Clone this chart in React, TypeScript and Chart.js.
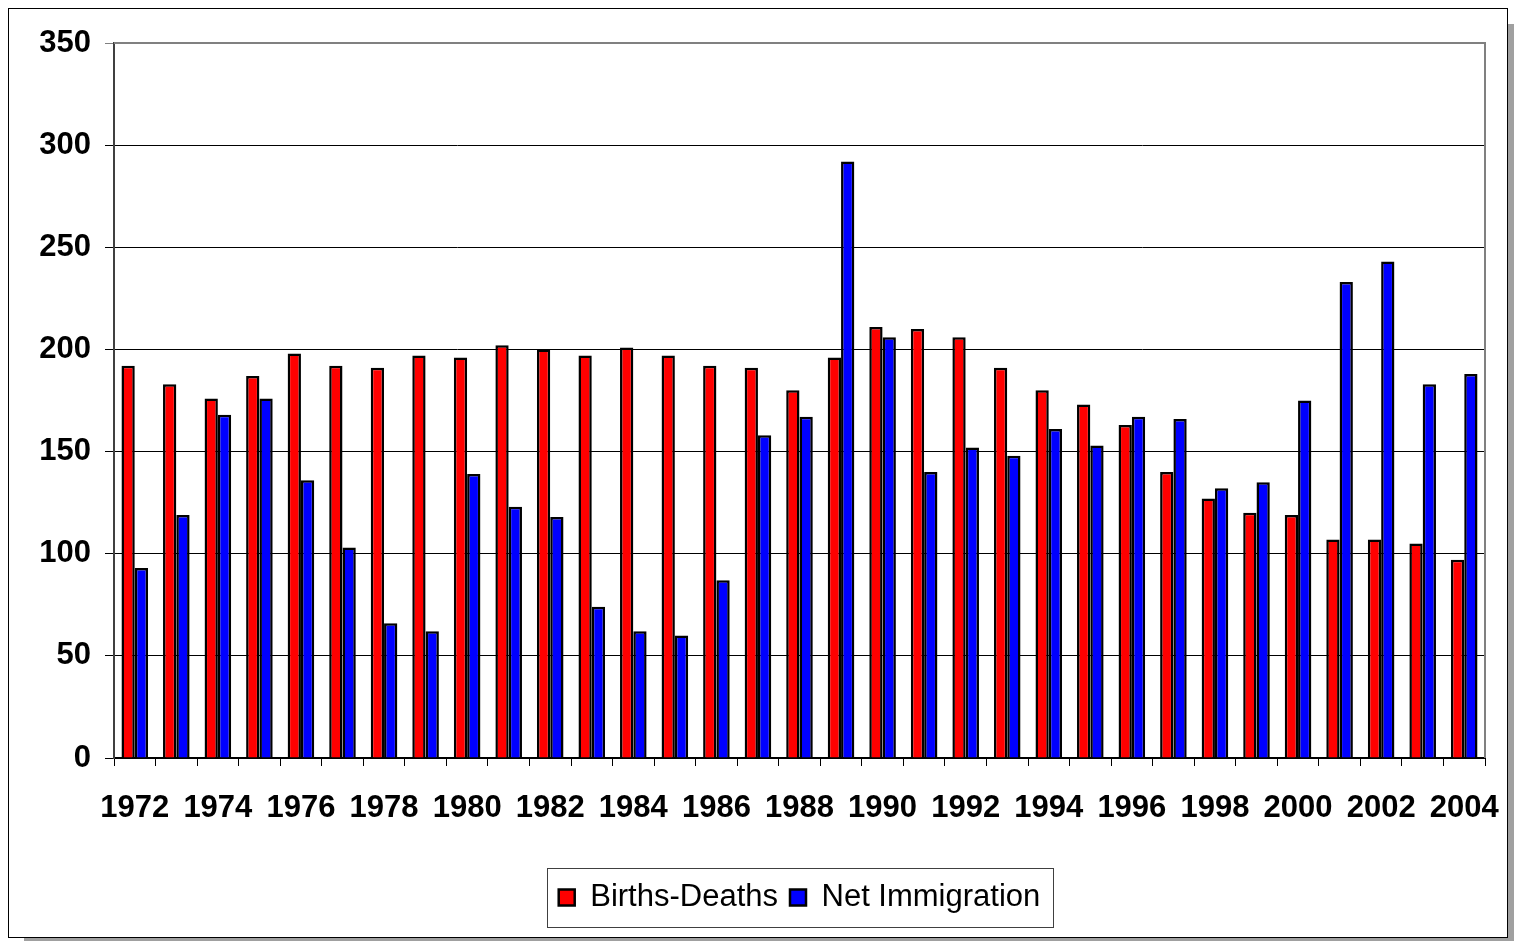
import React, { useEffect, useRef } from 'react';
import { Chart, registerables } from 'chart.js';

Chart.register(...registerables);

const years = [
  '1972', '1973', '1974', '1975', '1976', '1977', '1978', '1979', '1980', '1981', '1982',
  '1983', '1984', '1985', '1986', '1987', '1988', '1989', '1990', '1991', '1992', '1993',
  '1994', '1995', '1996', '1997', '1998', '1999', '2000', '2001', '2002', '2003', '2004',
];

const birthsDeaths = [
  192, 183, 176, 187, 198, 192, 191, 197, 196, 202, 200,
  197, 201, 197, 192, 191, 180, 196, 211, 210, 206, 191,
  180, 173, 163, 140, 127, 120, 119, 107, 107, 105, 97,
];

const netImmigration = [
  93, 119, 168, 176, 136, 103, 66, 62, 139, 123, 118,
  74, 62, 60, 87, 158, 167, 292, 206, 140, 152, 148,
  161, 153, 167, 166, 132, 135, 175, 233, 243, 183, 188,
];

const yMin = 0;
const yMax = 350;
const yStep = 50;

const FONT = "'Liberation Sans', Arial, sans-serif";

const plotFramePlugin = {
  id: 'plotFrame',
  beforeDatasetsDraw(chart: any) {
    const { ctx, chartArea } = chart;
    const { left, right, top, bottom } = chartArea;
    ctx.save();
    ctx.strokeStyle = '#808080';
    ctx.lineWidth = 2;
    ctx.beginPath();
    ctx.moveTo(left, top);
    ctx.lineTo(right, top);
    ctx.lineTo(right, bottom);
    ctx.stroke();
    ctx.restore();
  },
};

const legendBoxPlugin = {
  id: 'legendBox',
  afterDraw(chart: any) {
    const legend = chart.legend;
    if (!legend || !legend.legendHitBoxes || !legend.legendHitBoxes.length) return;
    const boxes = legend.legendHitBoxes;
    let l = Infinity, r = -Infinity, t = Infinity, b = -Infinity;
    boxes.forEach((h: any) => {
      l = Math.min(l, h.left);
      r = Math.max(r, h.left + h.width);
      t = Math.min(t, h.top);
      b = Math.max(b, h.top + h.height);
    });
    const { ctx } = chart;
    ctx.save();
    ctx.strokeStyle = '#404040';
    ctx.lineWidth = 1;
    ctx.strokeRect(Math.round(l - 12) + 0.5, Math.round(t - 14) + 0.5, Math.round(r - l + 24), Math.round(b - t + 28));
    ctx.restore();
  },
};

export default function App() {
  const canvasRef = useRef<HTMLCanvasElement | null>(null);

  useEffect(() => {
    document.body.style.overflow = 'hidden';
    const canvas = canvasRef.current;
    if (!canvas) return;
    const chart = new Chart(canvas, {
      type: 'bar',
      data: {
        labels: years,
        datasets: [
          {
            label: 'Births-Deaths',
            data: birthsDeaths,
            backgroundColor: '#ff0000',
            borderColor: '#000000',
            borderWidth: 2.5,
            categoryPercentage: 0.64,
            barPercentage: 1.0,
          },
          {
            label: 'Net Immigration',
            data: netImmigration,
            backgroundColor: '#0000ff',
            borderColor: '#000000',
            borderWidth: 2.5,
            categoryPercentage: 0.64,
            barPercentage: 1.0,
          },
        ],
      },
      options: {
        responsive: false,
        animation: false,
        layout: { padding: { top: 34, right: 22, bottom: 14, left: 0 } },
        plugins: {
          tooltip: { enabled: false },
          legend: {
            position: 'bottom',
            align: 'center',
            fullSize: false,
            labels: {
              font: { size: 31, family: FONT },
              color: '#000000',
              boxWidth: 16,
              boxHeight: 16,
              padding: 12,
            },
          },
        },
        scales: {
          x: {
            offset: true,
            grid: {
              display: true,
              drawOnChartArea: false,
              drawTicks: true,
              tickLength: 8,
              offset: true,
              color: '#000000',
            },
            border: { display: true, color: '#000000', width: 2 },
            ticks: {
              autoSkip: false,
              maxRotation: 0,
              minRotation: 0,
              padding: 24,
              color: '#000000',
              font: { size: 31, weight: 'bold', family: FONT },
              callback: (_v: any, i: number) => (i % 2 === 0 ? years[i] : ''),
            },
            afterFit: (s: any) => {
              s.height = 112;
              s.paddingLeft = 0;
              s.paddingRight = 0;
            },
          },
          y: {
            min: yMin,
            max: yMax,
            grid: {
              color: (c: any) => (c.tick && c.tick.value === yMax ? '#808080' : '#000000'),
              lineWidth: 1,
              drawTicks: true,
              tickLength: 9,
            },
            border: { display: true, color: '#404040', width: 2 },
            ticks: {
              stepSize: yStep,
              padding: 14,
              color: '#000000',
              font: { size: 31, weight: 'bold', family: FONT },
            },
            afterFit: (s: any) => {
              s.width = 105;
              s.paddingTop = 0;
              s.paddingBottom = 0;
            },
          },
        },
      },
      plugins: [plotFramePlugin, legendBoxPlugin],
    });
    return () => chart.destroy();
  }, []);

  return (
    <div>
      <div
        style={{
          position: 'absolute',
          left: 24,
          top: 24,
          width: 1490,
          height: 917,
          background: '#a0a0a0',
        }}
      />
      <div
        style={{
          position: 'absolute',
          left: 8,
          top: 8,
          width: 1500,
          height: 930,
          boxSizing: 'border-box',
          border: '1px solid #000',
          background: '#fff',
        }}
      >
        <canvas ref={canvasRef} width={1498} height={928} style={{ display: 'block' }} />
      </div>
    </div>
  );
}
